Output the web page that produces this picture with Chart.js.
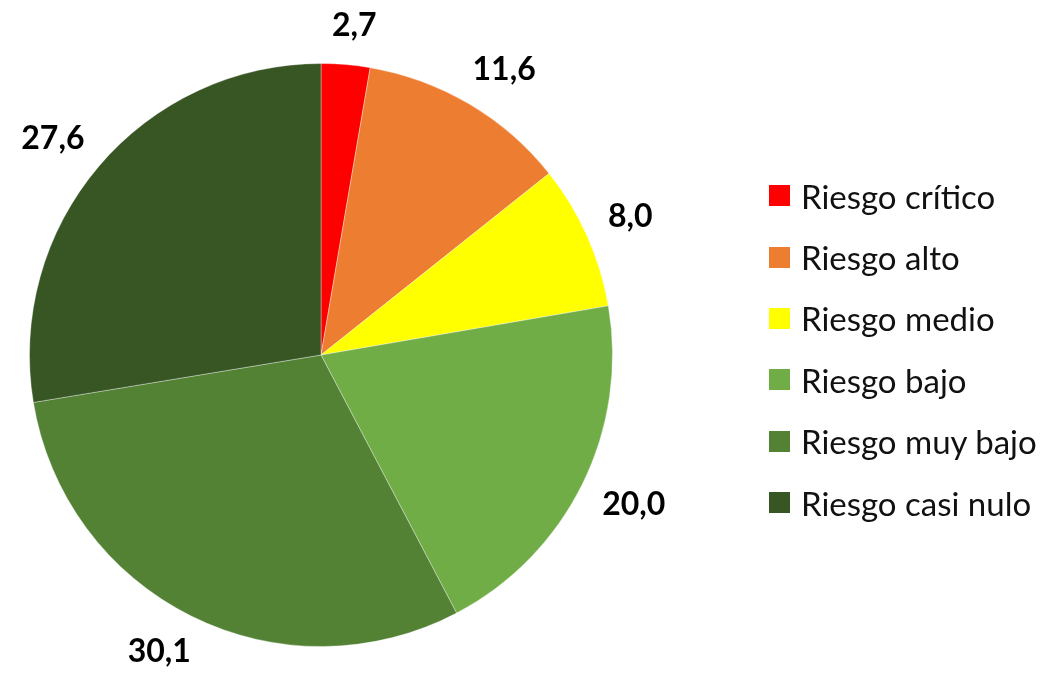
<!DOCTYPE html>
<html lang="es">
<head>
<meta charset="utf-8">
<title>Distribución por nivel de riesgo</title>
<script src="https://cdn.jsdelivr.net/npm/chart.js@4/dist/chart.umd.min.js"></script>
<style>
  html, body { margin: 0; padding: 0; background: #fff; }
  #wrap { position: relative; width: 1051px; height: 674px; }
  #legend {
    position: absolute; left: 769px; top: 165px;
    margin: 0; padding: 0; list-style: none;
    font-family: Lato, 'Open Sans', sans-serif; font-size: 33px; color: #111;
  }
  #legend li { display: flex; align-items: center; height: 61.4px; white-space: nowrap; }
  #legend .box { width: 21px; height: 21px; margin-right: 11px; flex: none; }
</style>
</head>
<body>
<div id="wrap">
  <canvas id="chart" width="1051" height="674"></canvas>
  <ul id="legend"></ul>
</div>
<script>
const categories = ['Riesgo crítico', 'Riesgo alto', 'Riesgo medio', 'Riesgo bajo', 'Riesgo muy bajo', 'Riesgo casi nulo'];
const shares = [2.7, 11.6, 8.0, 20.0, 30.1, 27.6];
const sliceColors = ['#FF0000', '#ED7D31', '#FFFF00', '#70AD47', '#548235', '#375623'];

const fmt = v => v.toFixed(1).replace('.', ',');

// keeps the sign, softens the component so diagonal labels sit further out
const soft = c => Math.sign(c) * Math.sqrt(Math.abs(c));

// value labels outside each slice, pushed out along the mid angle
const outsideLabels = {
  id: 'outsideLabels',
  afterDatasetsDraw(chart) {
    const { ctx } = chart;
    const meta = chart.getDatasetMeta(0);
    const values = chart.data.datasets[0].data;
    ctx.save();
    ctx.font = 'bold 32px Lato, "Open Sans", sans-serif';
    ctx.fillStyle = '#000';
    ctx.textAlign = 'center';
    ctx.textBaseline = 'middle';
    meta.data.forEach((arc, i) => {
      const { x, y, startAngle, endAngle, outerRadius } = arc.getProps(['x', 'y', 'startAngle', 'endAngle', 'outerRadius'], true);
      const mid = (startAngle + endAngle) / 2;
      const ux = Math.cos(mid);
      const uy = Math.sin(mid);
      const text = fmt(values[i]);
      const w = ctx.measureText(text).width;
      const h = 30;
      const r = outerRadius + 24;
      ctx.fillText(text, x + r * ux + (w / 2) * soft(ux), y + r * uy + (h / 2) * soft(uy));
    });
    ctx.restore();
  }
};

// legend list built from the chart's own labels and colours
const htmlLegend = {
  id: 'htmlLegend',
  afterUpdate(chart) {
    const ul = document.getElementById('legend');
    ul.innerHTML = '';
    chart.data.labels.forEach((label, i) => {
      const li = document.createElement('li');
      const box = document.createElement('span');
      box.className = 'box';
      box.style.background = chart.data.datasets[0].backgroundColor[i];
      li.appendChild(box);
      li.appendChild(document.createTextNode(label));
      ul.appendChild(li);
    });
  }
};

new Chart(document.getElementById('chart'), {
  type: 'pie',
  data: {
    labels: categories,
    datasets: [{
      data: shares,
      backgroundColor: sliceColors,
      borderColor: 'rgba(255, 255, 255, 0.35)',
      borderWidth: 1,
    }],
  },
  options: {
    responsive: false,
    devicePixelRatio: 1,
    animation: false,
    layout: { padding: { left: 29, right: 438, top: 63, bottom: 27 } },
    plugins: {
      legend: { display: false },
      tooltip: { enabled: false },
    },
  },
  plugins: [outsideLabels, htmlLegend],
});
</script>
</body>
</html>
